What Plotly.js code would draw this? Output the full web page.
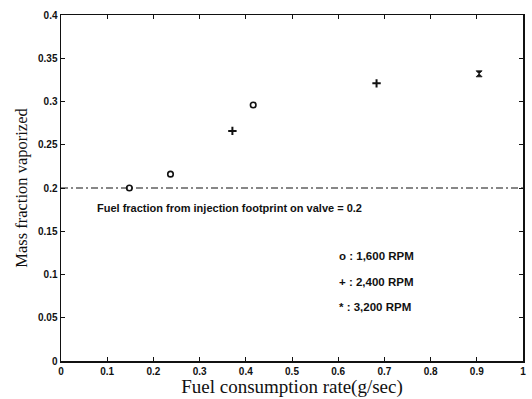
<!DOCTYPE html>
<html><head><meta charset="utf-8">
<script src="https://cdn.plot.ly/plotly-3.0.1.min.js"></script>
<style>html,body{margin:0;padding:0;background:#fff}#c{width:532px;height:399px}</style>
</head><body><div id="c"></div>
<script>
const rpm1600X = [0.148, 0.237, 0.416];
const rpm1600Y = [0.200, 0.216, 0.296];
const rpm2400X = [0.371, 0.683];
const rpm2400Y = [0.266, 0.321];
const rpm3200X = [0.905];
const rpm3200Y = [0.332];
const footprintX = [0, 1];
const footprintY = [0.2, 0.2];
const legendLabels = ["o : 1,600 RPM", "+ : 2,400 RPM", "* : 3,200 RPM"];
const legendY = [0.121, 0.091, 0.062];
const noteText = "Fuel fraction from injection footprint on valve = 0.2";

const sans = "Liberation Sans, Arial, sans-serif";
const serif = "Liberation Serif, Times New Roman, serif";

const traces = [
  {x: footprintX, y: footprintY, mode: "lines", line: {color: "#111", width: 1.2, dash: "7px,3px,2px,3px"}, hoverinfo: "skip"},
  {x: rpm1600X, y: rpm1600Y, mode: "markers", marker: {symbol: "circle-open", size: 5.5, color: "#111", line: {width: 1.6, color: "#111"}}},
  {x: rpm2400X, y: rpm2400Y, mode: "markers", marker: {symbol: "cross-thin-open", size: 6, color: "#111", line: {width: 2, color: "#111"}}},
  {x: rpm3200X, y: rpm3200Y, mode: "markers", marker: {symbol: "hourglass", size: 6, color: "#111", line: {width: 0.8, color: "#111"}}}
];

const annotations = [
  {x: 0.074, y: 0.177, xref: "x", yref: "y", text: noteText, showarrow: false, xanchor: "left", yanchor: "middle", font: {family: sans, size: 11, weight: 700, color: "#111"}}
];
legendLabels.forEach((t, i) => annotations.push({
  x: 0.598, y: legendY[i], xref: "x", yref: "y", text: t, showarrow: false, xanchor: "left", yanchor: "middle",
  font: {family: sans, size: 11.5, weight: 700, color: "#111"}
}));

const axisCommon = {
  showgrid: false, zeroline: false, showline: true, linecolor: "#111", linewidth: 1.5, mirror: "ticks",
  ticks: "inside", ticklen: 4, tickcolor: "#111", tickwidth: 1,
  tickfont: {family: sans, size: 10, weight: 700, color: "#111"}
};

const layout = {
  width: 532, height: 399,
  margin: {l: 61, r: 9, t: 15, b: 38},
  paper_bgcolor: "#fff", plot_bgcolor: "#fff",
  showlegend: false,
  xaxis: Object.assign({}, axisCommon, {
    range: [0, 1], tickvals: [0, 0.1, 0.2, 0.3, 0.4, 0.5, 0.6, 0.7, 0.8, 0.9, 1],
    ticktext: ["0", "0.1", "0.2", "0.3", "0.4", "0.5", "0.6", "0.7", "0.8", "0.9", "1"],
    title: {text: "Fuel consumption rate(g/sec)", font: {family: serif, size: 19, color: "#111"}, standoff: 3}
  }),
  yaxis: Object.assign({}, axisCommon, {
    range: [0, 0.4], tickvals: [0, 0.05, 0.1, 0.15, 0.2, 0.25, 0.3, 0.35, 0.4],
    ticktext: ["0", "0.05", "0.1", "0.15", "0.2", "0.25", "0.3", "0.35", "0.4"],
    title: {text: "Mass fraction vaporized", font: {family: serif, size: 16.5, color: "#111"}, standoff: 6}
  }),
  annotations: annotations
};

Plotly.newPlot("c", traces, layout, {displayModeBar: false, staticPlot: true});
</script>
</body></html>
